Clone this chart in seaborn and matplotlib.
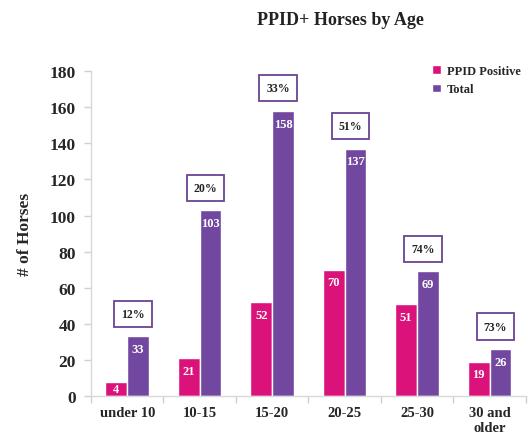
import matplotlib
matplotlib.use("Agg")
import matplotlib.pyplot as plt
import seaborn as sns
import pandas as pd
from matplotlib.ticker import FixedLocator

categories = ["under 10", "10-15", "15-20", "20-25", "25-30", "30 and\nolder"]
# bar heights as drawn in the reference (the first pink bar is drawn taller than its label)
ppid_positive = [8, 21, 52, 70, 51, 19]
ppid_labels = ["4", "21", "52", "70", "51", "19"]
total = [33, 103, 158, 137, 69, 26]
total_labels = ["33", "103", "158", "137", "69", "26"]
percent_labels = ["12%", "20%", "33%", "51%", "74%", "73%"]
series_names = ["PPID Positive", "Total"]
colors = ["#DB127A", "#7147A0"]

df = pd.DataFrame({
    "Age": categories * 2,
    "Count": ppid_positive + total,
    "Series": [series_names[0]] * len(categories) + [series_names[1]] * len(categories),
})

sns.set_style("white")
plt.rcParams["font.family"] = ["Liberation Serif", "DejaVu Serif"]
plt.rcParams["font.weight"] = "bold"

fig = plt.figure(figsize=(5.29, 4.35), dpi=100)
ax = fig.add_axes([0.172, 0.0874, 0.822, 0.7466])

sns.barplot(data=df, x="Age", y="Count", hue="Series", palette=colors,
            width=0.6, gap=0, saturation=1, ax=ax, order=categories,
            hue_order=series_names)

# value labels inside bars
for cont, labels in zip(ax.containers, [ppid_labels, total_labels]):
    for rect, lab in zip(cont, labels):
        h = rect.get_height()
        ax.text(rect.get_x() + rect.get_width() / 2, max(h - 7, 4), lab,
                ha="center", va="center", color="white", fontsize=9,
                fontweight="bold")

# percentage boxes
for i, (t, p) in enumerate(zip(total, percent_labels)):
    ax.text(i + 0.08, t + 12.5, p, ha="center", va="center", fontsize=8.5,
            fontweight="bold", color="#222222",
            bbox=dict(boxstyle="square,pad=0.6", fc="white", ec="#6A4494", lw=1.3))

ax.set_ylim(0, 180)
ax.set_xlim(-0.5, len(categories) - 0.5)
ax.set_yticks(range(0, 181, 20))
ax.tick_params(axis="y", labelsize=12.5, length=5, color="#D0D0D0", width=1, pad=6, left=True)
for lbl in ax.get_yticklabels():
    lbl.set_fontweight("bold")
ax.tick_params(axis="x", which="major", length=0, labelsize=10.5, pad=7)
for lbl in ax.get_xticklabels():
    lbl.set_fontweight("bold")
ax.xaxis.set_minor_locator(FixedLocator([i + 0.5 for i in range(-1, len(categories))]))
ax.tick_params(axis="x", which="minor", length=5, color="#D0D0D0", width=1, bottom=True)

for s in ["top", "right"]:
    ax.spines[s].set_visible(False)
for s in ["left", "bottom"]:
    ax.spines[s].set_color("#D9D9D9")
    ax.spines[s].set_linewidth(1)

ax.set_xlabel("")
ax.set_ylabel("# of Horses", fontsize=12.5, fontweight="bold", labelpad=12)

fig.text(0.643, 0.952, "PPID+ Horses by Age", ha="center", va="center",
         fontsize=13, fontweight="bold", color="#222222")

leg = ax.legend(loc="upper right", bbox_to_anchor=(1.015, 1.055), frameon=False,
                fontsize=9, handlelength=0.7, handleheight=0.7, handletextpad=0.5,
                labelspacing=0.55)
for t in leg.get_texts():
    t.set_fontweight("bold")

fig.savefig("out.png", dpi=100)
